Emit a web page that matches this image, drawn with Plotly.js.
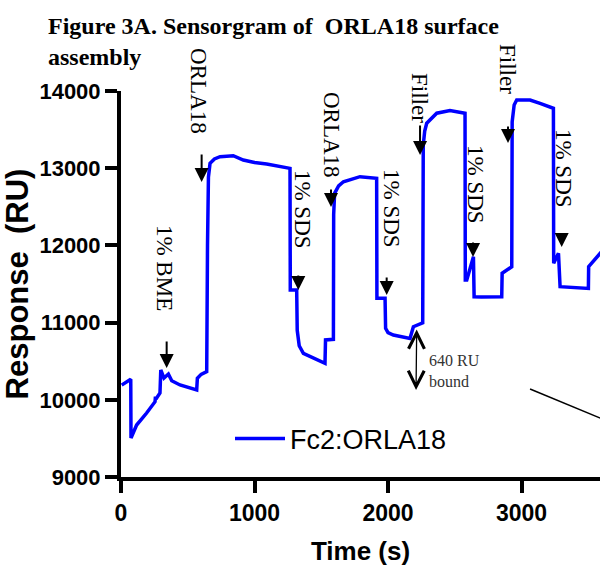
<!DOCTYPE html>
<html>
<head>
<meta charset="utf-8">
<script src="https://cdn.plot.ly/plotly-3.0.1.min.js"></script>
<style>html,body{margin:0;padding:0;background:#fff;}#chart{width:600px;height:568px;}</style>
</head>
<body>
<div id="chart"></div>
<script>
// Sensorgram trace (time in s, response in RU)
const timeS = [5, 73, 75, 117, 192, 255, 258, 262, 292, 298, 322, 355, 380, 442, 567, 572, 600, 642,
  648, 655, 667, 700, 742, 841, 916, 1000, 1091, 1266,
  1268, 1316, 1320, 1335, 1366, 1441, 1528, 1532, 1591,
  1593, 1600, 1630, 1666, 1790, 1915,
  1917, 1978, 1982, 2000, 2040, 2165, 2190, 2260,
  2264, 2275, 2290, 2365, 2464, 2577,
  2579, 2590, 2640, 2645, 2700, 2852, 2855, 2927,
  2930, 2945, 2964, 3064, 3139, 3239,
  3241, 3277, 3289, 3400, 3501, 3503, 3564, 3600];
const responseRU = [10190, 10265, 9505, 9673, 9829, 9975, 10040, 10010, 10088, 10386, 10282, 10334, 10247, 10192, 10127, 10278, 10330, 10364,
  12000, 12886, 13063, 13120, 13149, 13162, 13106, 13075, 13054, 12998,
  11422, 11422, 10900, 10700, 10602, 10537, 10473, 10775, 10784,
  12400, 12675, 12770, 12825, 12890, 12869,
  11315, 11315, 10926, 10870, 10839, 10796, 10947, 10998,
  13300, 13480, 13582, 13712, 13746, 13711,
  11552, 11552, 11854, 11335, 11330, 11335, 11639, 11724,
  13600, 13820, 13883, 13883, 13840, 13776,
  11768, 11898, 11465, 11450, 11443, 11724, 11854, 11920];

const seriesName = 'Fc2:ORLA18';
const xTicks = [0, 1000, 2000, 3000];
const yTicks = [9000, 10000, 11000, 12000, 13000, 14000];

// Injection labels: text, centre time, centre RU
const labelText = ['ORLA18', '1% BME', '1% SDS', 'ORLA18', '1% SDS', 'Filler', '1% SDS', 'Filler', '1% SDS'];
const labelT = [584, 330, 1356, 1581, 2022, 2240, 2659, 2891, 3311];
const labelR = [14000, 11707, 12472, 13430, 12472, 13909, 12782, 14285, 13003];
// Arrow tips: time, RU, arrow length (px)
const arrowT = [604, 342, 1328, 1573, 1990, 2240, 2637, 2899, 3301];
const arrowR = [12821, 10412, 11422, 12497, 11358, 13171, 11850, 13326, 11979];
const arrowLen = [29, 28, 16, 19, 19, 31, 16, 18, 15];

const yMin = 9000, yMax = 14000;
const serif = 'Liberation Serif, Times New Roman, serif';
const sans = 'Liberation Sans, Arial, sans-serif';

const annotations = [];
for (let i = 0; i < labelText.length; i++) {
  annotations.push({
    // y given on paper scale (same linear mapping) so labels above the axis top stay visible
    x: labelT[i], y: (labelR[i] - yMin) / (yMax - yMin), xref: 'x', yref: 'paper',
    xanchor: 'center', yanchor: 'middle',
    text: labelText[i], showarrow: false, textangle: 90,
    font: {family: serif, size: 23, color: '#000'}
  });
  annotations.push({
    x: arrowT[i], y: arrowR[i], xref: 'x', yref: 'y',
    text: '', showarrow: true, ax: 0, ay: -arrowLen[i],
    arrowhead: 2, arrowsize: 1.4, arrowwidth: 2, arrowcolor: '#000', standoff: 0
  });
}
// 640 RU bound double arrow
annotations.push({
  x: 2210, y: 10127, xref: 'x', yref: 'y', axref: 'x', ayref: 'y', ax: 2215, ay: 10930,
  text: '', showarrow: true, arrowside: 'end+start', arrowhead: 5, startarrowhead: 5,
  arrowsize: 2.4, startarrowsize: 2.4, arrowwidth: 1.3, arrowcolor: '#000'
});
annotations.push({
  x: 2292, y: 10373, xref: 'x', yref: 'y', xanchor: 'left', yanchor: 'middle', align: 'left',
  text: '640 RU<br>bound', showarrow: false,
  font: {family: serif, size: 16, color: '#333'}
});

const data = [{
  x: timeS, y: responseRU, type: 'scatter', mode: 'lines', name: seriesName,
  line: {color: '#0000ff', width: 3.5}
}];

const layout = {
  width: 600, height: 568,
  margin: {l: 121, r: 0, t: 91, b: 91},
  paper_bgcolor: '#fff', plot_bgcolor: '#fff',
  font: {family: sans, color: '#000'},
  title: {
    text: 'Figure 3A. Sensorgram of\u00a0 ORLA18 surface<br>assembly',
    x: 48 / 600, xanchor: 'left', xref: 'container',
    y: 1 - 34 / 568, yanchor: 'top', yref: 'container',
    font: {family: serif, size: 24, weight: 'bold', color: '#000'}
  },
  xaxis: {
    range: [0, 3588], tickvals: xTicks, ticktext: xTicks.map(String),
    showgrid: false, zeroline: false, showline: true, linecolor: '#000', linewidth: 4,
    ticks: 'outside', ticklen: 12, tickwidth: 4, tickcolor: '#000',
    tickfont: {family: sans, size: 23, weight: 'bold', color: '#000'},
    title: {text: 'Time (s)', font: {family: sans, size: 26, weight: 'bold', color: '#000'}, standoff: 18}
  },
  yaxis: {
    range: [yMin, yMax], tickvals: yTicks, ticktext: yTicks.map(String),
    showgrid: false, zeroline: false, showline: true, linecolor: '#000', linewidth: 4,
    ticks: 'outside', ticklen: 12, tickwidth: 4, tickcolor: '#000',
    tickfont: {family: sans, size: 22, weight: 'bold', color: '#000'},
    title: {text: 'Response\u00a0 (RU)', font: {family: sans, size: 31, weight: 'bold', color: '#000'}, standoff: 8}
  },
  showlegend: true,
  legend: {
    x: (230 - 121) / 479, y: (477 - 439) / 386, xanchor: 'left', yanchor: 'middle',
    bgcolor: 'rgba(0,0,0,0)', itemwidth: 50,
    font: {family: sans, size: 27, color: '#000'}
  },
  shapes: [{
    type: 'line', xref: 'x', yref: 'y', x0: 3064, y0: 10140, x1: 3650, y1: 9720,
    line: {color: '#000', width: 1.5}
  }],
  annotations: annotations
};

Plotly.newPlot('chart', data, layout, {displayModeBar: false});
</script>
</body>
</html>
